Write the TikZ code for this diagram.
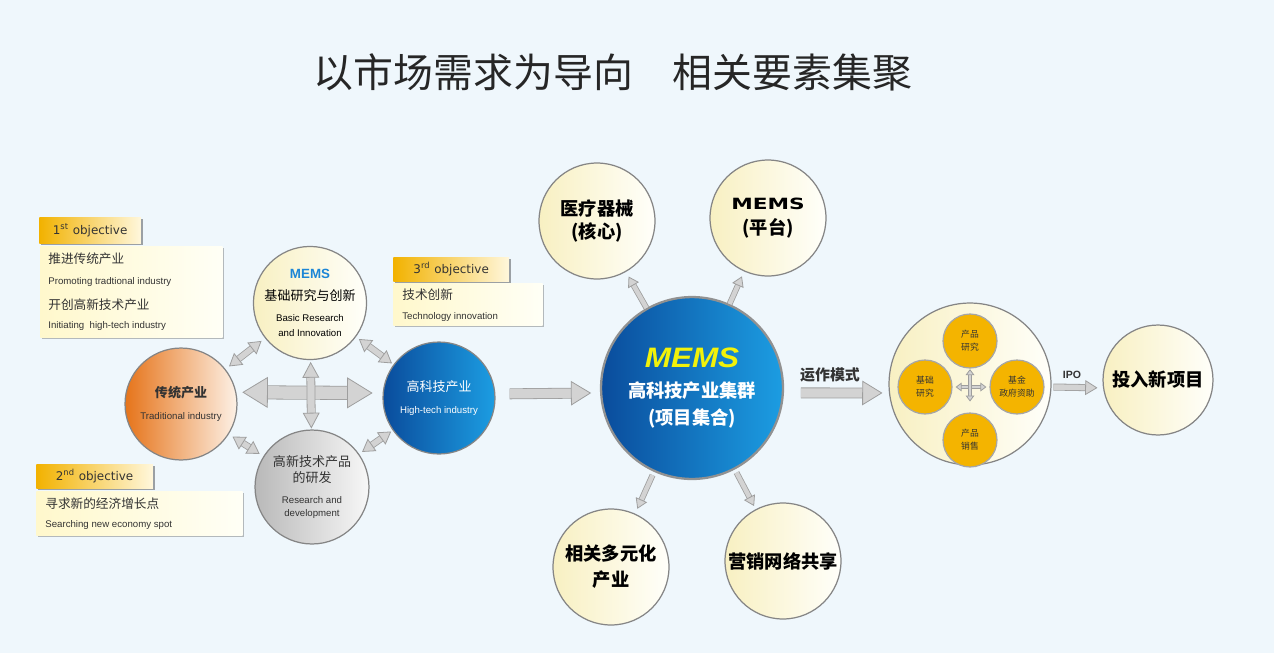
\documentclass[tikz,border=0pt]{standalone}
\usepackage{fontspec}
\setmainfont{Liberation Sans}
\newfontfamily\cjk{Noto Sans CJK SC}
\newfontfamily\objfont{DejaVu Sans}
\usetikzlibrary{arrows.meta,shadows}

\definecolor{bgblue}{HTML}{EFF7FC}
\definecolor{ringgray}{HTML}{858585}
\definecolor{creamL}{HTML}{F8F0C2}
\definecolor{creamR}{HTML}{FFFFFA}
\definecolor{orangeL}{HTML}{E6741A}
\definecolor{orangeR}{HTML}{FDF1E6}
\definecolor{blueL}{HTML}{0A4C9C}
\definecolor{blueR}{HTML}{1C9DE2}
\definecolor{goldfill}{HTML}{F4B400}
\definecolor{headL}{HTML}{F2B200}
\definecolor{headR}{HTML}{FFF7DC}
\definecolor{boxL}{HTML}{FFF8CC}
\definecolor{boxR}{HTML}{FFFFF6}
\definecolor{arrfill}{HTML}{D3D3D3}
\definecolor{arredge}{HTML}{9E9E9E}
\definecolor{memsblue}{HTML}{1C86D6}
\definecolor{memsyellow}{HTML}{F2F20A}
\definecolor{inkgray}{HTML}{333333}

\newcommand\circzh{\cjk\fontsize{7.4}{8}\selectfont}
\newcommand\circen{\fontsize{5.5}{6}\selectfont}
\newcommand\bigzh{\cjk\bfseries\fontsize{10.4}{11}\selectfont}
\newcommand\boxzh{\cjk\fontsize{7.2}{8}\selectfont}
\newcommand\boxen{\fontsize{5.5}{6}\selectfont}
\newcommand\innerzh{\cjk\fontsize{5}{6}\selectfont}

\tikzset{
  bubble/.style={circle, draw=ringgray, line width=0.7pt, inner sep=0pt,
    minimum size=#1*0.04cm, align=center, text=inkgray},
  creamball/.style={bubble=#1, left color=creamL, right color=creamR, text=black},
  orangeball/.style={bubble=#1, left color=orangeL, right color=orangeR},
  blueball/.style={bubble=#1, left color=blueL, right color=blueR, text=white},
  grayball/.style={bubble=#1, left color=gray!55, right color=gray!6},
  goldball/.style={bubble=#1, draw=gray!70, fill=goldfill, text=black!80},
  lines/.style={font=\fontsize{6}{#1}\selectfont},
  objhead/.style={anchor=north west, inner sep=0pt, left color=headL, right color=headR,
    drop shadow={shadow xshift=1.2pt, shadow yshift=-1.2pt, opacity=0.35, fill=black},
    font=\objfont\fontsize{6.8}{8}\selectfont, text=inkgray},
  objbox/.style={anchor=north west, inner sep=0pt, left color=boxL, right color=boxR,
    drop shadow={shadow xshift=1pt, shadow yshift=-1pt, opacity=0.25, fill=black}},
  boxline/.style={anchor=west, inner sep=0pt, text=inkgray},
  blockarrow/.style n args={3}{draw=arredge, line width=0.45pt, double=arrfill, double distance=#1,
    -{Triangle[length=#3, width=#2, line width=0.45pt, color=arredge, fill=arrfill]}},
  dblockarrow/.style n args={3}{draw=arredge, line width=0.45pt, double=arrfill, double distance=#1,
    {Triangle[length=#3, width=#2, line width=0.45pt, color=arredge, fill=arrfill]}-{Triangle[length=#3, width=#2, line width=0.45pt, color=arredge, fill=arrfill]}},
  hdbl/.style={dblockarrow={7.1pt}{17.6pt}{14.5pt}},
  vdbl/.style={dblockarrow={4.1pt}{9.6pt}{9pt}},
  diagdbl/.style={dblockarrow={3.1pt}{8.5pt}{7pt}},
  flowarrow/.style={blockarrow={5.3pt}{14pt}{11.5pt}},
  ipoarrow/.style={blockarrow={3.1pt}{8.5pt}{7pt}},
  spokearrow/.style={blockarrow={2.5pt}{7pt}{5.7pt}},
  tinydbl/.style={dblockarrow={1.4pt}{5pt}{3.4pt}}
}

\begin{document}
\begin{tikzpicture}[x=0.02cm, y=-0.02cm]
  \fill[bgblue] (0,0) rectangle (1274,653);
  \useasboundingbox (0,0) rectangle (1274,653);

  \node[font=\cjk\fontsize{22.7}{24}\selectfont, text=black!85] (title) at (613,72)
    {以市场需求为导向\hspace{1em}相关要素集聚};

  \node[objhead, minimum width=57.8pt, minimum height=14.7pt] (head1) at (39,217) {1\textsuperscript{st} objective};
  \node[objbox, minimum width=103.8pt, minimum height=51.6pt] (box1) at (40,246) {};
  \node[boxline] (line1a) at (48,259) {\boxzh 推进传统产业};
  \node[boxline] (line1b) at (48,282) {\boxen Promoting tradtional industry};
  \node[boxline] (line1c) at (48,305) {\boxzh 开创高新技术产业};
  \node[boxline] (line1d) at (48,326) {\boxen Initiating~ high-tech industry};

  \node[objhead, minimum width=65.8pt, minimum height=13.6pt] (head3) at (393,257) {3\textsuperscript{rd} objective};
  \node[objbox, minimum width=85pt, minimum height=23.8pt] (box3) at (393,283) {};
  \node[boxline] (line3a) at (402,295) {\boxzh 技术创新};
  \node[boxline] (line3b) at (402,317) {\boxen Technology innovation};

  \node[objhead, minimum width=66.3pt, minimum height=13.6pt] (head2) at (36,464) {2\textsuperscript{nd} objective};
  \node[objbox, minimum width=117.4pt, minimum height=25pt] (box2) at (36,491) {};
  \node[boxline] (line2a) at (45,504) {\boxzh 寻求新的经济增长点};
  \node[boxline] (line2b) at (45,525) {\boxen Searching new economy spot};

  \node[creamball=56, lines=8.5pt] (basic) at (310,303)
    {{\color{memsblue}\bfseries\fontsize{7.6}{8}\selectfont MEMS}\\[4pt]{\circzh 基础研究与创新}\\[3.4pt]{\circen Basic Research}\\{\circen and Innovation}};
  \node[orangeball=56, lines=12.5pt] (trad) at (181,404)
    {{\circzh\bfseries 传统产业}\\{\circen Traditional industry}};
  \node[blueball=56, lines=12.5pt] (hitech) at (439,398)
    {{\circzh 高科技产业}\\{\circen High-tech industry}};
  \node[grayball=57, lines=7.9pt] (rnd) at (312,487)
    {{\circzh 高新技术产品}\\[1.2pt]{\circzh 的研发}\\[4pt]{\circen Research and}\\{\circen development}};

  \node[blueball=91, draw=ringgray!90, line width=1.3pt, lines=15.3pt] (central) at (692,388)
    {\scalebox{1.12}[1]{\color{memsyellow}\bfseries\itshape\fontsize{16}{16}\selectfont MEMS}\\[1.7pt]{\bigzh 高科技产业集群}\\{\bigzh (项目集合)}};

  \node[creamball=58, lines=13pt] (med) at (597,221) {{\bigzh 医疗器械}\\{\bigzh (核心)}};
  \node[creamball=58, lines=14.2pt] (plat) at (768,218)
    {\scalebox{1.4}[1]{\objfont\bfseries\fontsize{8.8}{9}\selectfont MEMS}\\{\bigzh (平台)}};
  \node[creamball=58, lines=14.7pt] (div) at (611,567) {{\bigzh 相关多元化}\\{\bigzh 产业}};
  \node[creamball=58] (mkt) at (783,561) {\bigzh 营销网络共享};

  \node[creamball=81] (ops) at (970,384) {};
  \node[goldball=27, lines=7.4pt] (iprod) at (970,341) {{\innerzh 产品}\\{\innerzh 研究}};
  \node[goldball=27, lines=7.4pt] (ibasic) at (925,387) {{\innerzh 基础}\\{\innerzh 研究}};
  \node[goldball=27, lines=7.4pt] (ifund) at (1017,387) {{\innerzh 基金}\\{\innerzh 政府资助}};
  \node[goldball=27, lines=7.4pt] (isale) at (970,440) {{\innerzh 产品}\\{\innerzh 销售}};

  \node[creamball=55] (invest) at (1158,380) {\bigzh 投入新项目};

  \node[font=\cjk\bfseries\fontsize{8.5}{9}\selectfont, text=inkgray] (opslabel) at (830,375) {运作模式};
  \node[font=\bfseries\fontsize{6}{7}\selectfont, text=inkgray] (ipolabel) at (1072,375) {IPO};

  \begin{scope}
    \draw[hdbl, shorten <=3.4pt, shorten >=5.7pt] (trad.12) to (hitech.175);
    \draw[vdbl, shorten <=1pt, shorten >=0.5pt] (basic) to (rnd);
    \draw[diagdbl, shorten <=2.5pt, shorten >=2.5pt] (basic) to (trad);
    \draw[diagdbl, shorten <=2pt, shorten >=1pt] (basic) to (hitech);
    \draw[diagdbl, shorten <=2.5pt, shorten >=2.5pt] (trad) to (rnd);
    \draw[diagdbl, shorten <=2pt, shorten >=1pt] (rnd) to (hitech);
    \draw[flowarrow, shorten <=8pt, shorten >=5pt] ([yshift=2.3pt]hitech.east) to ([yshift=-2.8pt]central.west);
    \draw[spokearrow, shorten >=3pt] (central) to (med);
    \draw[spokearrow, shorten >=3pt] (central) to (plat);
    \draw[spokearrow, shorten <=2pt, shorten >=3pt] (central) to (div);
    \draw[spokearrow, shorten <=2pt, shorten >=2pt] (central) to (mkt);
    \draw[flowarrow, shorten <=9.6pt, shorten >=3.4pt] ([yshift=-2.8pt]central.east) to ([yshift=-5.1pt]ops.west);
    \draw[ipoarrow, shorten <=1pt, shorten >=2.8pt] ([yshift=-1.7pt]ops.east) to ([yshift=-4.5pt]invest.west);
    \draw[tinydbl, shorten <=1.7pt, shorten >=1.7pt] (ibasic) to (ifund);
    \draw[tinydbl, shorten <=0.3pt, shorten >=6.2pt] (iprod) to (isale);
  \end{scope}
\end{tikzpicture}
\end{document}
